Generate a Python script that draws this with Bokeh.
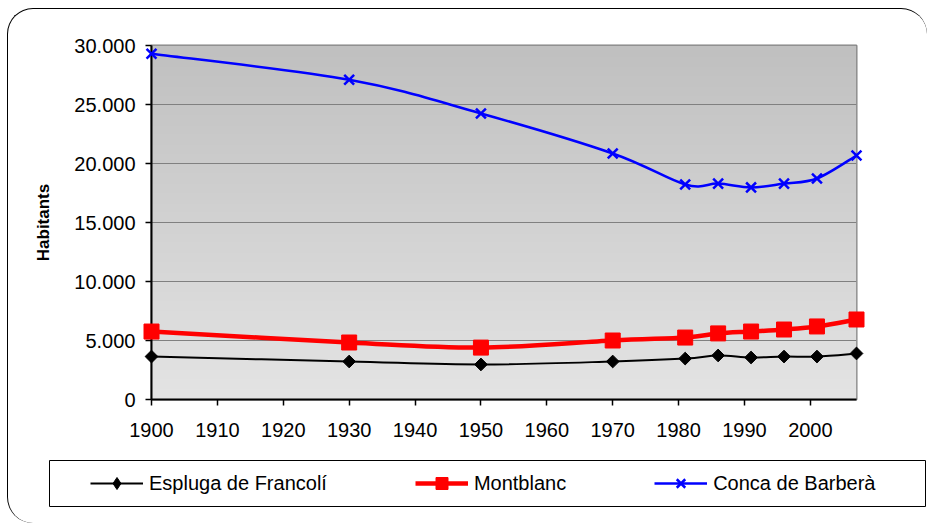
import numpy as np
from bokeh.plotting import figure
from bokeh.layouts import column
from bokeh.models import Range1d, FixedTicker, CustomJSTickFormatter, Legend, LegendItem
from bokeh.embed import file_html
from bokeh.resources import INLINE

# ---- data ----
years = [1900, 1930, 1950, 1970, 1981, 1986, 1991, 1996, 2001, 2007]
espluga = [3640, 3220, 2970, 3220, 3470, 3730, 3560, 3640, 3640, 3900]
montblanc = [5760, 4830, 4400, 5000, 5250, 5600, 5760, 5930, 6190, 6780]
conca = [29300, 27100, 24240, 20850, 18220, 18300, 17970, 18300, 18730, 20680]
series_names = ["Espluga de Francolí", "Montblanc", "Conca de Barberà"]
x_ticks = [1900, 1910, 1920, 1930, 1940, 1950, 1960, 1970, 1980, 1990, 2000]
y_ticks = [0, 5000, 10000, 15000, 20000, 25000, 30000]
y_label = "Habitants"

FONT = "Liberation Sans"


def smooth_segments(xs, ys):
    """Cubic Bezier control points (Excel-like smoothed line) through the data points."""
    xs = np.asarray(xs, float)
    ys = np.asarray(ys, float)
    n = len(xs)
    d = dict(x0=[], y0=[], x1=[], y1=[], cx0=[], cy0=[], cx1=[], cy1=[])
    for i in range(n - 1):
        i0, i1, i2, i3 = max(i - 1, 0), i, i + 1, min(i + 2, n - 1)
        d["x0"].append(xs[i1]); d["y0"].append(ys[i1])
        d["x1"].append(xs[i2]); d["y1"].append(ys[i2])
        d["cx0"].append(xs[i1] + (xs[i2] - xs[i0]) / 6.0)
        d["cy0"].append(ys[i1] + (ys[i2] - ys[i0]) / 6.0)
        d["cx1"].append(xs[i2] - (xs[i3] - xs[i1]) / 6.0)
        d["cy1"].append(ys[i2] - (ys[i3] - ys[i1]) / 6.0)
    return d


# ================= main chart =================
p = figure(width=919, height=440,
           x_range=Range1d(years[0], years[-1]), y_range=Range1d(y_ticks[0], y_ticks[-1]),
           output_backend="svg", toolbar_location=None,
           min_border_left=143, min_border_right=71, min_border_top=36, min_border_bottom=50)
p.border_fill_alpha = 0
p.background_fill_color = "#d0d0d0"
p.outline_line_color = "#808080"
p.outline_line_width = 2

# gradient plot-area background
N = 200
g = np.linspace(228, 192, N).astype(np.uint8)
img = np.empty((N, 1), dtype=np.uint32)
view = img.view(dtype=np.uint8).reshape((N, 1, 4))
view[:, 0, 0] = g
view[:, 0, 1] = g
view[:, 0, 2] = g
view[:, 0, 3] = 255
p.image_rgba(image=[img], x=years[0], y=y_ticks[0], dw=years[-1] - years[0],
             dh=y_ticks[-1] - y_ticks[0], level="image")

# grid
p.xgrid.visible = False
p.ygrid.ticker = FixedTicker(ticks=y_ticks)
p.ygrid.grid_line_color = "#808080"
p.ygrid.grid_line_width = 1

# axes
p.xaxis.ticker = FixedTicker(ticks=x_ticks)
p.yaxis.ticker = FixedTicker(ticks=y_ticks)
p.yaxis.formatter = CustomJSTickFormatter(
    code="return tick.toString().replace(/\\B(?=(\\d{3})+(?!\\d))/g, '.');")
for ax in (p.xaxis[0], p.yaxis[0]):
    ax.axis_line_color = "black"
    ax.axis_line_width = 2
    ax.major_tick_line_color = "black"
    ax.major_tick_line_width = 1.5
    ax.major_tick_out = 6
    ax.major_tick_in = 0
    ax.minor_tick_line_color = None
    ax.major_label_text_font = FONT
    ax.major_label_text_font_size = "20px"
    ax.major_label_text_color = "black"
p.xaxis.major_label_standoff = 17
p.yaxis.major_label_standoff = 10
p.yaxis.axis_label = y_label
p.yaxis.axis_label_text_font = FONT
p.yaxis.axis_label_text_font_size = "17px"
p.yaxis.axis_label_text_font_style = "bold"
p.yaxis.axis_label_text_color = "black"
p.yaxis.axis_label_standoff = 18

# series
d_e = smooth_segments(years, espluga)
d_m = smooth_segments(years, montblanc)
d_c = smooth_segments(years, conca)

p.bezier(source=d_e, x0="x0", y0="y0", x1="x1", y1="y1", cx0="cx0", cy0="cy0",
         cx1="cx1", cy1="cy1", line_color="black", line_width=2)
p.scatter(years, espluga, marker="square", angle=np.pi / 4, size=9,
          fill_color="black", line_color="black", level="overlay")

p.bezier(source=d_m, x0="x0", y0="y0", x1="x1", y1="y1", cx0="cx0", cy0="cy0",
         cx1="cx1", cy1="cy1", line_color="#ff0000", line_width=4.5)
p.scatter(years, montblanc, marker="square", size=15,
          fill_color="#ff0000", line_color="#ff0000", level="overlay")

p.bezier(source=d_c, x0="x0", y0="y0", x1="x1", y1="y1", cx0="cx0", cy0="cy0",
         cx1="cx1", cy1="cy1", line_color="#0000ff", line_width=2.5)
p.scatter(years, conca, marker="x", size=14, line_color="#0000ff",
          line_width=2.5, level="overlay")

# ================= legend strip =================
p2 = figure(width=919, height=74, output_backend="svg", toolbar_location=None,
            x_axis_type=None, y_axis_type=None,
            x_range=Range1d(0, 1), y_range=Range1d(0, 1),
            min_border_left=41, min_border_right=2, min_border_top=11, min_border_bottom=17)
p2.border_fill_alpha = 0
p2.background_fill_color = "white"
p2.outline_line_color = "black"
p2.outline_line_width = 1

for fig in (p, p2):
    if "frame_align" in fig.properties():
        fig.frame_align = False

# legend-key renderers (same series, outside this strip's visible range)
k_e_l = p2.line(years, espluga, line_color="black", line_width=2)
k_e_m = p2.scatter(years, espluga, marker="diamond", size=12, fill_color="black", line_color="black")
k_m_l = p2.line(years, montblanc, line_color="#ff0000", line_width=4.5)
k_m_m = p2.scatter(years, montblanc, marker="square", size=15, fill_color="#ff0000", line_color="#ff0000")
k_c_l = p2.line(years, conca, line_color="#0000ff", line_width=2.5)
k_c_m = p2.scatter(years, conca, marker="x", size=12, line_color="#0000ff", line_width=2.5)

legend = Legend(items=[LegendItem(label=series_names[0], renderers=[k_e_l, k_e_m]),
                       LegendItem(label=series_names[1], renderers=[k_m_l, k_m_m]),
                       LegendItem(label=series_names[2], renderers=[k_c_l, k_c_m])],
                location=(41, 8), orientation="horizontal",
                padding=0, margin=0, spacing=88, glyph_width=53, glyph_height=30,
                label_height=30, label_standoff=6,
                border_line_color=None, background_fill_alpha=0,
                label_text_font=FONT, label_text_font_size="20px",
                label_text_color="black")
p2.add_layout(legend)

layout = column(p, column(p2, spacing=0), spacing=0)
layout.styles = {"transform": "translate(7px, 8px)",
                 "border-left": "1px solid black", "border-top": "1px solid black",
                 "border-top-left-radius": "26px", "border-bottom-left-radius": "26px",
                 "border-top-right-radius": "26px"}

open("out.html", "w").write(file_html(layout, INLINE))
